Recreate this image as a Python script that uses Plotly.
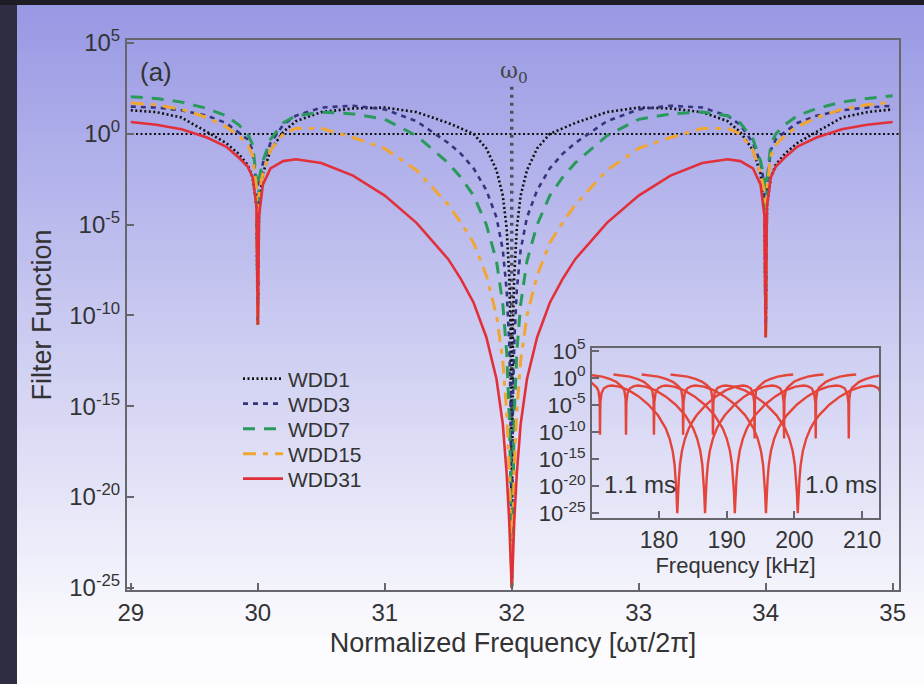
import plotly.graph_objects as go

# ---------------- data (log10 of filter function) ----------------
norm_freq = [29.0, 29.2, 29.4, 29.6, 29.75, 29.85, 29.92, 29.96, 29.99, 30.0,
             30.01, 30.04, 30.1, 30.2, 30.3, 30.5, 30.75, 31.0, 31.25, 31.5,
             31.6, 31.7, 31.8, 31.88, 31.93, 31.96, 31.98, 31.99, 32.0,
             32.01, 32.02, 32.04, 32.07, 32.12, 32.2, 32.3, 32.4, 32.5, 32.75,
             33.0, 33.25, 33.5, 33.7, 33.8, 33.9, 33.96, 33.99, 34.0, 34.01,
             34.04, 34.08, 34.15, 34.25, 34.4, 34.6, 34.8, 35.0]

wdd1_log = [1.3, 1.2, 0.9, 0.1, -0.5, -1.1, -1.7, -2.4, -4.0, -10.5,
            -4.0, -2.2, -0.9, 0.1, 0.7, 1.2, 1.4, 1.45, 1.2, 0.6,
            0.3, 0.0, -0.8, -2.0, -3.4, -5.2, -7.8, -10.5, -25.0,
            -10.5, -7.8, -5.2, -3.4, -2.0, -0.8, 0.0, 0.3, 0.6, 1.2,
            1.45, 1.4, 1.2, 0.7, 0.1, -0.9, -2.2, -4.0, -11.2, -4.0,
            -2.4, -1.7, -1.1, -0.5, 0.1, 0.9, 1.2, 1.35]

wdd3_log = [1.5, 1.45, 1.3, 1.0, 0.6, 0.1, -0.3, -0.9, -2.8, -10.5,
            -2.8, -1.6, -0.5, 0.5, 1.0, 1.45, 1.55, 1.35, 0.7, -0.5,
            -1.1, -1.9, -3.1, -4.6, -6.4, -8.6, -11.5, -14.5, -25.0,
            -14.5, -11.5, -8.6, -6.4, -4.6, -3.1, -1.9, -1.1, -0.5, 0.7,
            1.35, 1.55, 1.45, 1.0, 0.5, -0.5, -1.6, -2.8, -11.2, -2.8,
            -0.9, -0.3, 0.1, 0.6, 1.0, 1.3, 1.45, 1.55]

wdd7_log = [2.05, 1.95, 1.75, 1.4, 1.0, 0.5, 0.0, -0.6, -2.5, -10.5,
            -2.5, -1.5, -0.3, 0.6, 1.0, 1.2, 1.1, 0.8, -0.1, -1.6,
            -2.4, -3.4, -5.0, -7.0, -9.4, -12.0, -15.5, -18.5, -25.0,
            -18.5, -15.5, -12.0, -9.4, -7.0, -5.0, -3.4, -2.4, -1.6, -0.1,
            0.8, 1.1, 1.2, 1.0, 0.6, -0.3, -1.5, -2.5, -11.2, -2.5,
            -0.6, 0.0, 0.5, 1.0, 1.4, 1.75, 1.95, 2.1]

wdd15_log = [1.7, 1.6, 1.35, 0.9, 0.4, -0.1, -0.6, -1.2, -3.0, -10.5,
             -3.2, -2.2, -0.9, 0.0, 0.3, 0.3, -0.2, -0.8, -2.0, -3.9,
             -4.9, -6.0, -7.8, -10.0, -12.5, -15.3, -18.5, -21.0, -25.0,
             -21.0, -18.5, -15.3, -12.5, -10.0, -7.8, -6.0, -4.9, -3.9, -2.0,
             -0.8, -0.2, 0.3, 0.3, 0.0, -0.9, -2.2, -3.2, -11.2, -3.0,
             -1.2, -0.6, -0.1, 0.4, 0.9, 1.35, 1.6, 1.75]

wdd31_log = [0.65, 0.5, 0.25, -0.2, -0.7, -1.3, -1.8, -2.4, -4.0, -10.5,
             -4.5, -2.8, -1.9, -1.5, -1.4, -1.6, -2.3, -3.4, -4.9, -6.9,
             -8.0, -9.3, -11.2, -13.5, -16.0, -18.7, -21.3, -23.3, -25.0,
             -23.3, -21.3, -18.7, -16.0, -13.5, -11.2, -9.3, -8.0, -6.9, -4.9,
             -3.4, -2.3, -1.6, -1.4, -1.5, -1.9, -2.8, -4.5, -11.2, -4.0,
             -2.4, -1.8, -1.3, -0.7, -0.2, 0.25, 0.5, 0.65]

series_names = ["WDD1", "WDD3", "WDD7", "WDD15", "WDD31"]
series_logs = [wdd1_log, wdd3_log, wdd7_log, wdd15_log, wdd31_log]

omega0 = 32.0
reference_level = 1.0
omega0_line_top_log = 2.6

x_ticks = [29, 30, 31, 32, 33, 34, 35]
y_tick_exps = [5, 0, -5, -10, -15, -20, -25]

# inset: WDD31 at different durations (centre frequencies in kHz, 1.1 ms ... 1.0 ms)
inset_centers_khz = [182.7, 186.8, 191.2, 195.8, 200.5]
inset_x_ticks = [180, 190, 200, 210]

# ---------------- styles ----------------
colors = ["#111111", "#35357f", "#2a9a5c", "#f2a632", "#e2303b"]
dashes = ["2px,2.5px", "5px,5px", "12px,9px", "13px,7px,5px,7px", "solid"]
widths = [2.6, 2.6, 3, 3, 2.6]
FONT = "Liberation Sans, Arial, sans-serif"
TXT = "#333333"

W, H = 924, 684
ml, mr, mt, mb = 127, 25, 40, 94
pw, ph = W - ml - mr, H - mt - mb


def px_x(p):
    return (p - ml) / pw


def px_y(p):
    return (H - mb - p) / ph


fig = go.Figure()

x_range = [28.97, 35.05]
y_range = [-25.12, 5.17]

# reference lines
fig.add_trace(go.Scatter(x=x_range, y=[reference_level, reference_level], mode="lines",
                         line=dict(color="#111111", dash="2px,2.5px", width=2),
                         showlegend=False, hoverinfo="skip"))
fig.add_trace(go.Scatter(x=[omega0, omega0], y=[10 ** omega0_line_top_log, 10 ** y_range[0]],
                         mode="lines", line=dict(color="#505060", dash="3px,5px", width=3.5),
                         showlegend=False, hoverinfo="skip"))

legend_ids = ["legend", "legend2", "legend3", "legend4", "legend5"]
legend_centers_px = [379, 404, 429, 454, 479]

for name, logs, c, d, w, lid in zip(series_names, series_logs, colors, dashes, widths, legend_ids):
    fig.add_trace(go.Scatter(x=norm_freq, y=[10 ** v for v in logs], mode="lines", name=name,
                             line=dict(color=c, dash=d, width=w), legend=lid))

for fc in inset_centers_khz:
    fig.add_trace(go.Scatter(x=[v * fc / omega0 for v in norm_freq],
                             y=[10 ** v for v in wdd31_log], mode="lines",
                             line=dict(color="#e4453a", width=2.4), showlegend=False,
                             xaxis="x2", yaxis="y2"))

# ---------------- background gradient ----------------
shapes = []
top_c = (152, 152, 228)
bot_c = (252, 252, 254)
n_b = 90
y0p, y1p = 5, 684
for i in range(n_b):
    a = y0p + (y1p - y0p) * i / n_b
    b = y0p + (y1p - y0p) * (i + 1) / n_b
    t = min(1.0, max(0.0, ((a + b) / 2 - 5) / 640))
    col = tuple(round(top_c[k] + (bot_c[k] - top_c[k]) * t) for k in range(3))
    shapes.append(dict(type="rect", xref="paper", yref="paper",
                       x0=px_x(17), x1=px_x(W + 2), y0=px_y(b + 0.6), y1=px_y(a - 0.6),
                       fillcolor="rgb(%d,%d,%d)" % col, line=dict(width=0), layer="below"))
shapes.append(dict(type="rect", xref="paper", yref="paper", x0=px_x(-2), x1=px_x(W + 2),
                   y0=px_y(5), y1=px_y(-2), fillcolor="#1e1d26", line=dict(width=0), layer="below"))


def sup_labels(exps):
    return ["10<sup>%d</sup>" % e for e in exps]


axis_common = dict(showgrid=False, zeroline=False, showline=True, linecolor="#66666c",
                   linewidth=2, mirror=True, ticks="inside", ticklen=7, tickwidth=2,
                   tickcolor="#66666c")

legend_layouts = {}
for lid, cy in zip(legend_ids, legend_centers_px):
    legend_layouts[lid] = dict(x=px_x(238), y=px_y(cy), xanchor="left", yanchor="middle",
                               bgcolor="rgba(0,0,0,0)", font=dict(size=21, color=TXT),
                               itemwidth=40)

fig.update_layout(
    width=W, height=H,
    margin=dict(l=ml, r=mr, t=mt, b=mb, pad=0),
    paper_bgcolor="#2e2d42",
    plot_bgcolor="rgba(0,0,0,0)",
    font=dict(family=FONT, color=TXT),
    shapes=shapes,
    showlegend=True,
    xaxis=dict(range=x_range, tickvals=x_ticks, tickfont=dict(size=24, color=TXT),
               title=dict(text="Normalized Frequency [ωτ/2π]", font=dict(size=27, color=TXT),
                          standoff=8),
               domain=[0, 1], anchor="y", **axis_common),
    yaxis=dict(type="log", range=y_range, tickvals=[10.0 ** e for e in y_tick_exps],
               ticktext=sup_labels(y_tick_exps), tickfont=dict(size=24, color=TXT),
               title=dict(text="Filter Function", font=dict(size=27, color=TXT), standoff=10),
               domain=[0, 1], anchor="x", **axis_common),
    xaxis2=dict(domain=[px_x(592), px_x(879)], anchor="y2", range=[170.1, 212.5],
                tickvals=inset_x_ticks, tickfont=dict(size=23, color=TXT),
                title=dict(text="Frequency [kHz]", font=dict(size=22, color=TXT), standoff=4),
                **axis_common),
    yaxis2=dict(domain=[px_y(518), px_y(348)], anchor="x2", type="log", range=[-25.9, 5.55],
                tickvals=[10.0 ** e for e in y_tick_exps], ticktext=sup_labels(y_tick_exps),
                tickfont=dict(size=22, color=TXT), **axis_common),
    annotations=[
        dict(text="(a)", xref="paper", yref="paper", x=px_x(138), y=px_y(72),
             xanchor="left", yanchor="middle", showarrow=False, font=dict(size=26, color=TXT)),
        dict(text="ω<sub>0</sub>", xref="paper", yref="paper", x=px_x(514), y=px_y(72),
             xanchor="center", yanchor="middle", showarrow=False,
             font=dict(size=22, color="#444444", family="DejaVu Serif, serif")),
        dict(text="1.1 ms", xref="paper", yref="paper", x=px_x(602), y=px_y(484),
             xanchor="left", yanchor="middle", showarrow=False, font=dict(size=24, color=TXT)),
        dict(text="1.0 ms", xref="paper", yref="paper", x=px_x(879), y=px_y(484),
             xanchor="right", yanchor="middle", showarrow=False, font=dict(size=24, color=TXT)),
    ],
    **legend_layouts,
)

fig.write_html("out.html")
